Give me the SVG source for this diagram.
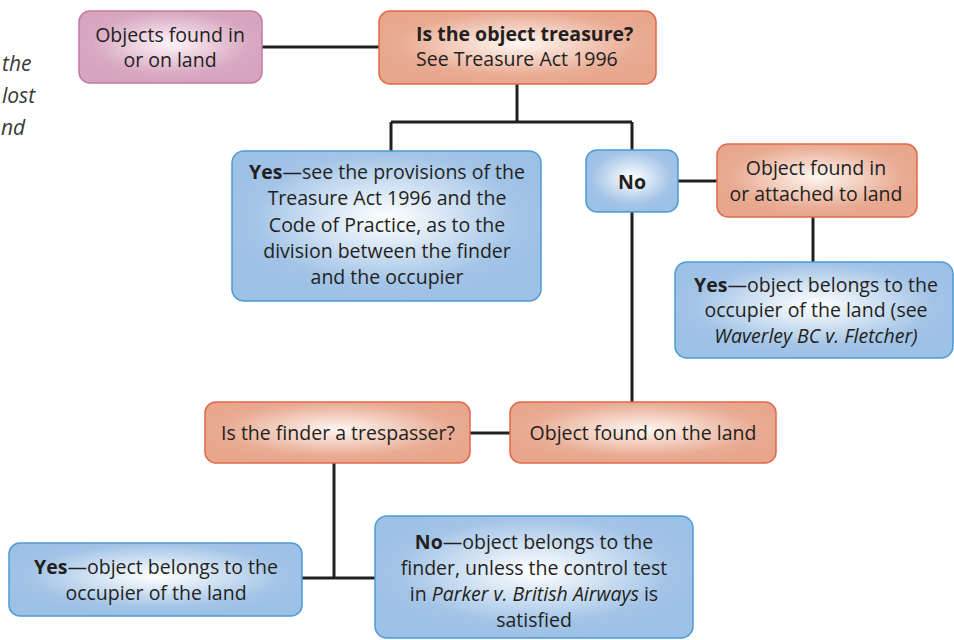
<svg xmlns="http://www.w3.org/2000/svg" width="954" height="640" viewBox="0 0 954 640">
<defs>
<radialGradient id="gPink" cx="0.5" cy="0.45" r="0.55">
<stop offset="0" stop-color="#fcf3f8"/>
<stop offset="0.12" stop-color="#f8e8f0"/>
<stop offset="0.78" stop-color="#d8a8c2"/>
<stop offset="1" stop-color="#d6a4bf"/>
</radialGradient>
<radialGradient id="gSal" cx="0.5" cy="0.45" r="0.55">
<stop offset="0" stop-color="#fef6f2"/>
<stop offset="0.12" stop-color="#fbebe3"/>
<stop offset="0.78" stop-color="#e9ab93"/>
<stop offset="1" stop-color="#e8a68d"/>
</radialGradient>
<radialGradient id="gBlue" cx="0.5" cy="0.45" r="0.55">
<stop offset="0" stop-color="#ffffff"/>
<stop offset="0.12" stop-color="#f2f7fc"/>
<stop offset="0.78" stop-color="#a3c4e7"/>
<stop offset="1" stop-color="#9dc0e5"/>
</radialGradient>
</defs>
<style>
text{font-family:"Open Sans","Noto Sans","Liberation Sans",sans-serif;font-size:19.5px;fill:#231f20;}
.c{text-anchor:middle;}
.b{font-weight:700;}
.i{font-style:italic;}
.pink{fill:url(#gPink);stroke:#c37aa3;stroke-width:1.5;}
.sal{fill:url(#gSal);stroke:#e0694b;stroke-width:1.5;}
.blue{fill:url(#gBlue);stroke:#4a9bd7;stroke-width:1.5;}
.side{font-style:italic;font-size:21px;fill:#3a3a3a;}
#connectors path{fill:none;stroke:#231f20;stroke-width:3;}
</style>

<g id="sidebar">
<text class="side" x="2" y="71">the</text>
<text class="side" x="2" y="103">lost</text>
<text class="side" x="1" y="135">nd</text>
</g>

<g id="connectors">
<path d="M262 47H379"/>
<path d="M517 84V122M391 122H632M391 122V151M632 122V151"/>
<path d="M678 181H717"/>
<path d="M813 217V262"/>
<path d="M632 212V402"/>
<path d="M470 433H510"/>
<path d="M334 463V578M302 578H375"/>
</g>

<g id="n-objects-land">
<rect class="pink" x="79" y="11" width="183" height="72" rx="11"/>
<text class="c" x="170" y="42">Objects found in</text>
<text class="c" x="170" y="67">or on land</text>
</g>

<g id="n-treasure">
<rect class="sal" x="379" y="11" width="277" height="73" rx="11"/>
<text class="b" x="416" y="41">Is the object treasure?</text>
<text x="416" y="66">See Treasure Act 1996</text>
</g>

<g id="n-yes-treasure">
<rect class="blue" x="232" y="151" width="309" height="150" rx="12"/>
<text class="c" x="387" y="179"><tspan class="b">Yes</tspan>—see the provisions of the</text>
<text class="c" x="387" y="205">Treasure Act 1996 and the</text>
<text class="c" x="387" y="232">Code of Practice, as to the</text>
<text class="c" x="387" y="258">division between the finder</text>
<text class="c" x="387" y="284">and the occupier</text>
</g>

<g id="n-no">
<rect class="blue" x="586" y="150" width="92" height="62" rx="11"/>
<text class="c b" x="632" y="189">No</text>
</g>

<g id="n-attached">
<rect class="sal" x="717" y="144" width="200" height="73" rx="11"/>
<text class="c" x="816" y="175">Object found in</text>
<text class="c" x="816" y="201">or attached to land</text>
</g>

<g id="n-yes-attached">
<rect class="blue" x="675" y="262" width="278" height="96" rx="12"/>
<text class="c" x="816" y="292"><tspan class="b">Yes</tspan>—object belongs to the</text>
<text class="c" x="816" y="317">occupier of the land (see</text>
<text class="c i" x="816" y="343">Waverley BC v. Fletcher)</text>
</g>

<g id="n-trespasser">
<rect class="sal" x="205" y="402" width="265" height="61" rx="11"/>
<text class="c" x="338" y="440">Is the finder a trespasser?</text>
</g>

<g id="n-on-land">
<rect class="sal" x="510" y="402" width="266" height="61" rx="11"/>
<text class="c" x="643" y="440">Object found on the land</text>
</g>

<g id="n-yes-trespasser">
<rect class="blue" x="9" y="543" width="293" height="73" rx="11"/>
<text class="c" x="156" y="574"><tspan class="b">Yes</tspan>—object belongs to the</text>
<text class="c" x="156" y="600">occupier of the land</text>
</g>

<g id="n-no-trespasser">
<rect class="blue" x="375" y="516" width="318" height="122" rx="12"/>
<text class="c" x="534" y="549"><tspan class="b">No</tspan>—object belongs to the</text>
<text class="c" x="534" y="575">finder, unless the control test</text>
<text class="c" x="534" y="601">in <tspan class="i">Parker v. British Airways</tspan> is</text>
<text class="c" x="534" y="627">satisfied</text>
</g>
</svg>
